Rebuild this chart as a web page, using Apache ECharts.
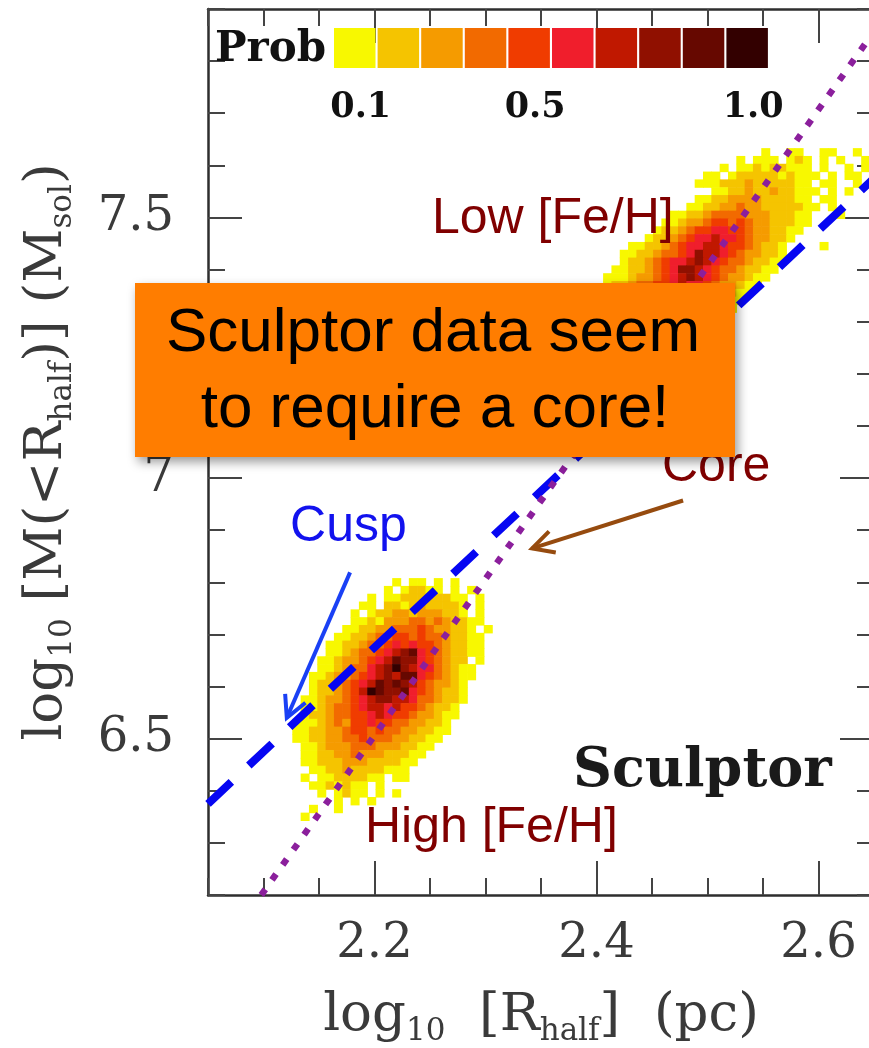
<!DOCTYPE html>
<html>
<head>
<meta charset="utf-8">
<title>Sculptor: mass within the half-light radius</title>
<script src="https://cdn.jsdelivr.net/npm/echarts@6/dist/echarts.min.js"></script>
<style>
html, body { margin: 0; padding: 0; background: #fff; }
#chart { width: 869px; height: 1048px; }
</style>
</head>
<body>
<div id="chart"></div>
<script>
// Probability colour scale: one colour per decile (0-0.1 ... 0.9-1.0)
const probColors = ['#f8f800', '#f5c400', '#f59b00', '#f26a00', '#f03c00',
                    '#f01e2c', '#c01800', '#901000', '#660800', '#330000'];
const probLabels = ['0.1', '0.5', '1.0'];
const probLabelBins = [0, 4, 9];

// Axis ranges and labelled ticks
const xRange = [2.05, 2.65];
const yRange = [6.2, 7.9];
const xMajor = [2.2, 2.4, 2.6];
const yMajor = [6.5, 7, 7.5];

// Binned samples. Each character is one bin: '.' empty, '0'..'9' probability decile.
// Bin width in log10 R_half and log10 M.
const binStep = [0.0075, 0.015];

// High [Fe/H] population: centre of first column / first row; rows run downward in log10 M
const highOrigin = [2.13, 6.80];
const highRows = [
  '............0.00.0.0.....',
  '...........0.01100.0.0...',
  '.........0.0011111100.0..',
  '........00.1101211110.0..',
  '.......0.011221222110.0..',
  '.......0010222332321100..',
  '......0011223334322110.0.',
  '.....001123344343321100..',
  '....0011233454544321100..',
  '....0012334567854321100..',
  '...001223456877543211.0..',
  '...0012335679765532100...',
  '..00122345676885432100...',
  '..0112345687876432210....',
  '..0112346987785432110....',
  '.00122345677665332110....',
  '.0012334566564432110.....',
  '.0112334456544322100.....',
  '0001232445443322110......',
  '0011223443433221100......',
  '001122334333221100.......',
  '.0012223332221100........',
  '.001122322211100.........',
  '.00111222111100..........',
  '..001121111000...........',
  '.0.00111100.00...........',
  '..0010100.0..............',
  '...0.0100.0.0............',
  '.....0.0.0...............',
  '..0..0...................',
  '.0.......................'
];

// Low [Fe/H] population
const lowOrigin = [2.41, 7.625];
const lowRows = [
  '...................0..00..00..0..',
  '................0.000.010.0.0..0.',
  '..............0.001011000.0..0.0.',
  '............00.01111101000.0.00..',
  '...........00011121111100.00..0..',
  '.............0011211211000.0.0...',
  '...........00112222111100.00.....',
  '..........0011223221111100.0.....',
  '........00112333322211100...0....',
  '.......001223443432211100........',
  '......011234455443221100.........',
  '.....011234556554322110..........',
  '...0011234556654432110....0......',
  '..00112334576654322110...........',
  '..01123455676543321100...........',
  '.00112345776543321100............',
  '00012234567654322100.............',
  '0112334456554322100..............',
  '112233445543322100...............',
  '12223344433322100................',
  '2223334333222110.................',
  '222233322211100..................',
  '12222222111100...................',
  '1122211111000....................',
  '11111110000......................'
];

// Model relations: cusped (NFW-like) and cored profiles
const cuspLine = [[2.05, 6.375], [2.65, 7.575]];
const coreLine = [[2.098, 6.2], [2.65, 7.857]];

// Text annotations placed in data coordinates
const notes = [
  { text: 'Low [Fe/H]', at: [2.2518, 7.497], color: '#800000', font: '50px "Liberation Sans"' },
  { text: 'High [Fe/H]', at: [2.1914, 6.329], color: '#800000', font: '50px "Liberation Sans"' },
  { text: 'Core', at: [2.4590, 7.020], color: '#800000', font: '50px "Liberation Sans"' },
  { text: 'Cusp', at: [2.1239, 6.905], color: '#1212ee', font: '50px "Liberation Sans"' },
  { text: 'Sculptor', at: [2.3788, 6.436], color: '#1a1a1a', font: 'bold 54px "DejaVu Serif"' }
];
const arrows = [
  { from: [2.178, 6.819], to: [2.121, 6.540], color: '#1a40f5' },
  { from: [2.478, 6.957], to: [2.342, 6.865], color: '#964b0f' }
];

function binsToPoints(origin, rows) {
  const pts = [];
  rows.forEach((row, k) => {
    for (let j = 0; j < row.length; j++) {
      const c = row[j];
      if (c === '.') continue;
      pts.push([origin[0] + j * binStep[0], origin[1] - k * binStep[1], (Number(c) + 0.5) / 10]);
    }
  });
  return pts;
}
const cells = binsToPoints(highOrigin, highRows).concat(binsToPoints(lowOrigin, lowRows));

const serif = 'DejaVu Serif';
const textGray = '#3a3a3a';

function frameAxis(kind, position, major) {
  const a = {
    type: 'value',
    position: position,
    min: kind === 'x' ? xRange[0] : yRange[0],
    max: kind === 'x' ? xRange[1] : yRange[1],
    splitLine: { show: false },
    axisLine: { show: !major, onZero: false, lineStyle: { color: '#2e2e2e', width: 2.5 } },
    axisTick: { show: true, inside: true, length: major ? 34 : 17, lineStyle: { color: '#444', width: 2 } },
    axisLabel: { show: false }
  };
  if (major) {
    a.axisTick.customValues = kind === 'x' ? xMajor : yMajor;
  } else {
    a.interval = kind === 'x' ? 0.05 : 0.1;
  }
  return a;
}

const nameRich = {
  m: { fontFamily: serif, fontSize: 53, color: textGray, lineHeight: 62 },
  s: { fontFamily: serif, fontSize: 31, color: textGray, lineHeight: 22, verticalAlign: 'bottom' }
};

const xLabelled = Object.assign(frameAxis('x', 'bottom', true), {
  name: '{m|log}{s|10}{m|  [R}{s|half}{m|]  (pc)}',
  nameLocation: 'middle',
  nameGap: 90,
  nameTextStyle: { rich: nameRich }
});
xLabelled.axisLabel = {
  show: true, customValues: xMajor, margin: 26,
  fontFamily: serif, fontSize: 48, color: textGray,
  formatter: v => v.toFixed(1)
};

const yLabelled = Object.assign(frameAxis('y', 'left', true), {
  name: '{m|log}{s|10}{m| [M(<R}{s|half}{m|)] (M}{s|sol}{m|)}',
  nameLocation: 'middle',
  nameGap: 130,
  nameTextStyle: { rich: nameRich }
});
yLabelled.axisLabel = {
  show: true, customValues: yMajor, margin: 34,
  fontFamily: serif, fontSize: 48, color: textGray,
  formatter: v => (v === 7 ? '7' : v.toFixed(1))
};

// Colour-bar legend and the call-out box
const legendLeft = 334, legendTop = 28, swatchW = 41.5, swatchStep = 43.6, swatchH = 40;
const legendGraphics = [
  { type: 'text', x: 215, y: 50, z: 10,
    style: { text: 'Prob', font: 'bold 42px "DejaVu Serif"', fill: '#111', align: 'left', verticalAlign: 'middle' } }
];
probColors.forEach((c, i) => {
  legendGraphics.push({ type: 'rect', z: 10,
    shape: { x: legendLeft + i * swatchStep, y: legendTop, width: swatchW, height: swatchH },
    style: { fill: c } });
});
probLabels.forEach((t, i) => {
  legendGraphics.push({ type: 'text', z: 10,
    x: legendLeft + probLabelBins[i] * swatchStep + swatchW / 2 + 6, y: 108,
    style: { text: t, font: 'bold 35px "DejaVu Serif"', fill: '#111', align: 'center', verticalAlign: 'middle' } });
});

const calloutGraphics = [
  { type: 'rect', z: 100, shape: { x: 135, y: 283, width: 600, height: 174 },
    style: { fill: '#ff7d00', shadowBlur: 10, shadowOffsetX: 3, shadowOffsetY: 5, shadowColor: 'rgba(0,0,0,0.4)' } },
  { type: 'text', z: 101, x: 433, y: 334,
    style: { text: 'Sculptor data seem', font: '62px "Liberation Sans"', fill: '#000', align: 'center', verticalAlign: 'middle' } },
  { type: 'text', z: 101, x: 435, y: 410,
    style: { text: 'to require a core!', font: '62px "Liberation Sans"', fill: '#000', align: 'center', verticalAlign: 'middle' } }
];

const chart = echarts.init(document.getElementById('chart'), null, { renderer: 'canvas' });
chart.setOption({
  animation: false,
  backgroundColor: '#fff',
  grid: { left: 208, top: 9, right: -5, bottom: 153, containLabel: false, outerBoundsMode: 'none' },
  xAxis: [frameAxis('x', 'bottom', false), xLabelled, frameAxis('x', 'top', false), frameAxis('x', 'top', true)],
  yAxis: [frameAxis('y', 'left', false), yLabelled, frameAxis('y', 'right', false), frameAxis('y', 'right', true)],
  series: [
    {
      name: 'Posterior', type: 'scatter', xAxisIndex: 0, yAxisIndex: 0, z: 2, silent: true,
      symbol: 'rect', symbolSize: [9, 8.4],
      itemStyle: { opacity: 1, color: p => probColors[Math.min(9, Math.floor(p.value[2] * 10))] },
      data: cells
    },
    {
      name: 'Cusp', type: 'line', xAxisIndex: 0, yAxisIndex: 0, z: 3, silent: true,
      showSymbol: false, symbol: 'none', data: cuspLine,
      lineStyle: { color: '#0606f2', width: 8, type: [32, 24], cap: 'butt' }
    },
    {
      name: 'Core', type: 'line', xAxisIndex: 0, yAxisIndex: 0, z: 3, silent: true,
      showSymbol: false, symbol: 'none', data: coreLine,
      lineStyle: { color: '#8b1f9c', width: 6.5, type: [7, 11.5], cap: 'butt' }
    },
    {
      name: 'Arrows', type: 'custom', xAxisIndex: 0, yAxisIndex: 0, z: 5, silent: true,
      data: arrows.map(a => a.from),
      renderItem: function (params, api) {
        const a = arrows[params.dataIndex];
        const p0 = api.coord(a.from), p1 = api.coord(a.to);
        const ang = Math.atan2(p0[1] - p1[1], p0[0] - p1[0]);
        const L = 24, spread = 0.48;
        const h1 = [p1[0] + L * Math.cos(ang + spread), p1[1] + L * Math.sin(ang + spread)];
        const h2 = [p1[0] + L * Math.cos(ang - spread), p1[1] + L * Math.sin(ang - spread)];
        return {
          type: 'group',
          children: [
            { type: 'polyline', shape: { points: [p0, p1] }, style: { stroke: a.color, lineWidth: 4, fill: null } },
            { type: 'polyline', shape: { points: [h1, p1, h2] }, style: { stroke: a.color, lineWidth: 4, fill: null } }
          ]
        };
      }
    },
    {
      name: 'Notes', type: 'custom', xAxisIndex: 0, yAxisIndex: 0, z: 6, silent: true,
      data: notes.map(n => n.at),
      renderItem: function (params, api) {
        const n = notes[params.dataIndex];
        const p = api.coord(n.at);
        return { type: 'text', x: p[0], y: p[1],
          style: { text: n.text, font: n.font, fill: n.color, align: 'left', verticalAlign: 'middle' } };
      }
    }
  ],
  graphic: legendGraphics.concat(calloutGraphics)
});
</script>
</body>
</html>
